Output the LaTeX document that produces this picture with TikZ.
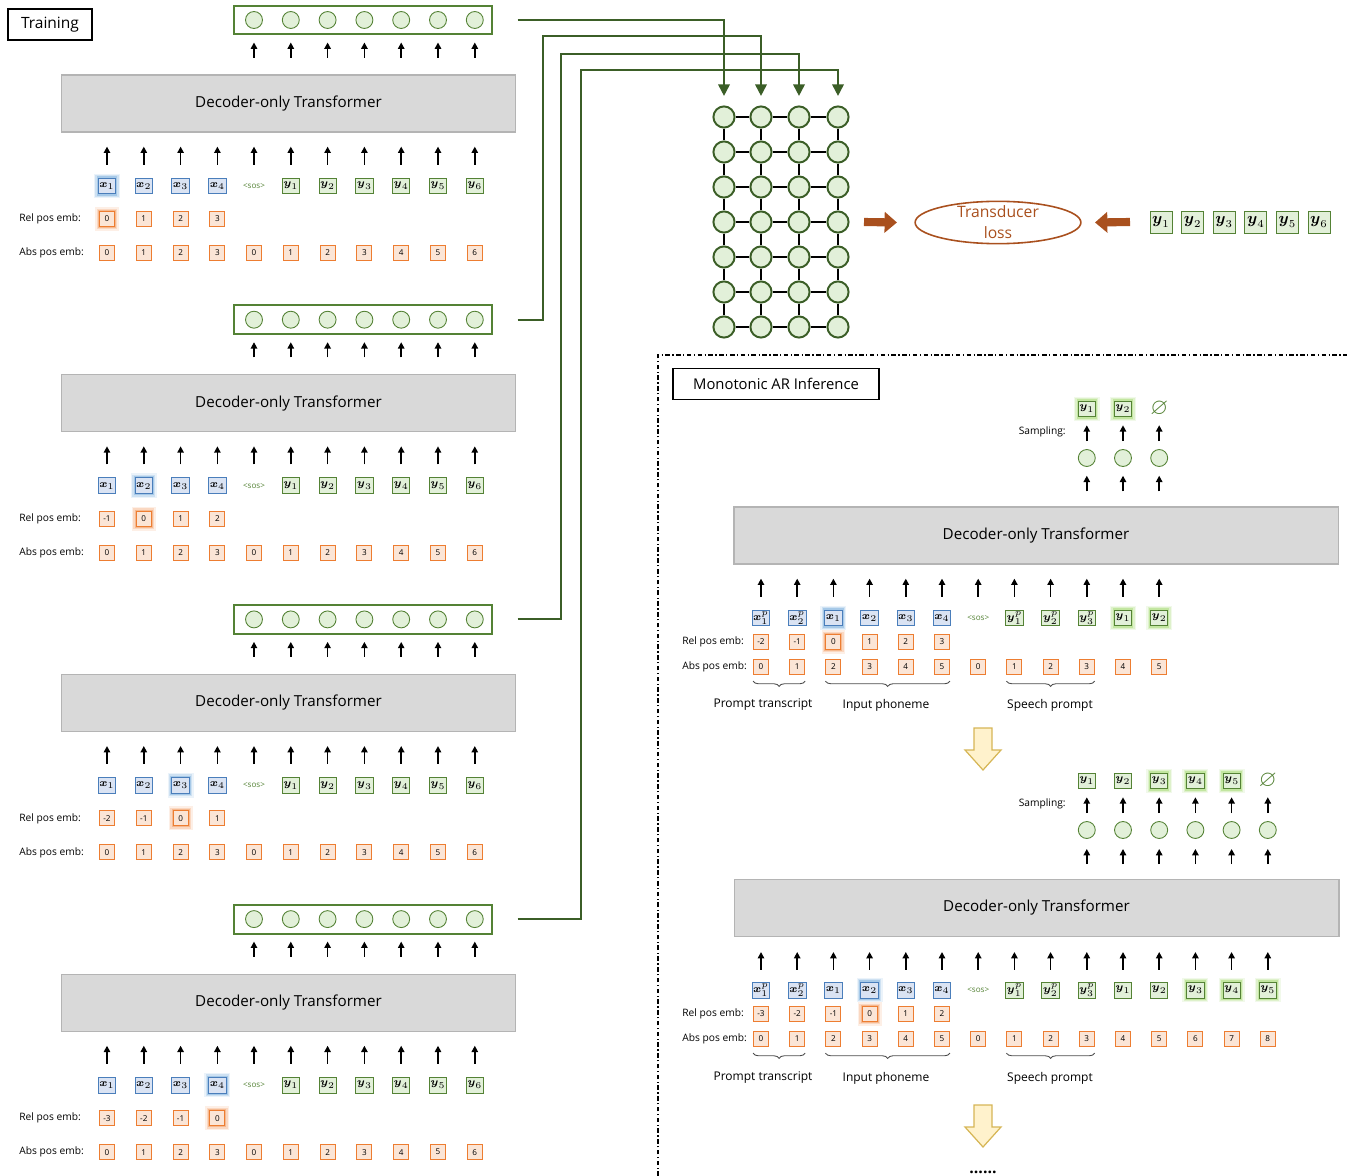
\documentclass[tikz,border=0pt]{standalone}
\usepackage{amsmath,amssymb}
\usepackage{fontspec}
\setmainfont{Open Sans}
\usepackage{tikz}
\usetikzlibrary{arrows.meta,decorations.pathreplacing}
\definecolor{xfill}{HTML}{DAE3F3}
\definecolor{xline}{HTML}{4A7EBB}
\definecolor{yfill}{HTML}{E2F0D9}
\definecolor{yline}{HTML}{548235}
\definecolor{feedgreen}{HTML}{3B5E27}
\definecolor{pfill}{HTML}{FBE5D6}
\definecolor{pline}{HTML}{ED7D31}
\definecolor{tffill}{HTML}{D9D9D9}
\definecolor{tfline}{HTML}{B4B4B4}
\definecolor{lossc}{HTML}{A9501E}
\definecolor{nextfill}{HTML}{FFF2CC}
\definecolor{nextline}{HTML}{D6B656}
\definecolor{glowb}{HTML}{5B9BD5}
\definecolor{glowg}{HTML}{8FD14F}

\tikzset{
  glow/.style={preaction={draw=#1,line width=5pt,draw opacity=0.12},
               preaction={draw=#1,line width=3.4pt,draw opacity=0.2},
               preaction={draw=#1,line width=1.8pt,draw opacity=0.35}},
  hlnone/.style={},
  hlb/.style={glow=glowb},
  hlg/.style={glow=glowg},
  hlo/.style={glow=pline},
  xtok/.style={draw=xline,fill=xfill,line width=0.5pt,minimum size=9pt,inner sep=0.6pt,font=\fontsize{6.2}{7}\selectfont},
  ytok/.style={draw=yline,fill=yfill,line width=0.5pt,minimum size=9pt,inner sep=0.6pt,font=\fontsize{6.2}{7}\selectfont},
  sostok/.style={text=yline,minimum size=9pt,inner sep=0pt,font=\fontsize{4.6}{5}\selectfont},
  nulltok/.style={text=yline,minimum size=9pt,inner sep=0pt,font=\fontsize{13}{14}\selectfont},
  posbox/.style={draw=pline,fill=pfill,line width=0.5pt,minimum size=8.5pt,inner sep=0pt,font=\fontsize{4.6}{5}\selectfont},
  dot/.style={circle,draw=yline,fill=yfill,line width=0.5pt,minimum size=9.6pt,inner sep=0pt},
  latdot/.style={circle,draw=feedgreen,fill=yfill,line width=1.1pt,minimum size=12pt,inner sep=0pt},
  latline/.style={line width=1.1pt},
  bar/.style={draw=yline,line width=1.1pt,minimum width=146.3pt,minimum height=16.4pt},
  tf/.style={draw=tfline,fill=tffill,line width=0.6pt,minimum width=257pt,minimum height=32.3pt,font=\fontsize{8.6}{10}\selectfont},
  title/.style={draw,line width=0.7pt,minimum height=17.5pt,font=\fontsize{8.8}{10}\selectfont},
  lbl/.style={inner sep=0pt,font=\fontsize{5.8}{7}\selectfont},
  grp/.style={inner sep=0pt,font=\fontsize{6.8}{8}\selectfont},
  uparr/.style={line width=0.9pt,-{Triangle[length=3.6pt,width=3.6pt]}},
  feed/.style={draw=feedgreen,line width=1.1pt,-{Triangle[length=6.5pt,width=6.5pt]},shorten >=5.4pt},
  lossarr/.style={draw=lossc,line width=4.6pt,-{Triangle[length=7pt,width=11.5pt]}},
  brc/.style={decorate,decoration={brace,mirror,amplitude=3pt},line width=0.5pt,draw=black!70},
  nextarr/.style={draw=nextline,fill=nextfill,line width=0.7pt}
}

\begin{document}
\begin{tikzpicture}[x=0.567pt,y=-0.567pt]
\useasboundingbox (0,0) rectangle (1347,1176);

\node[title,minimum width=47.6pt] (train) at (50,24.5) {Training};
\foreach \k in {0,1,2,3}{
  \pgfmathsetmacro\dy{299.7*\k}
  \pgfmathtruncatemacro\kk{\k+1}
  \node[bar] (bar\k) at (363,20+\dy) {};
  \node[tf] (tf\k) at (288.5,103.5+\dy) {Decoder-only Transformer};
  \foreach \i in {1,...,7}{
    \node[dot] (o\k-\i) at (217.2+36.8*\i,20+\dy) {};
    \draw[uparr,shorten <=9.6pt,shorten >=4pt] (tf\k.north -| o\k-\i) -- (o\k-\i |- bar\k.south);
  }
  \foreach \j in {1,...,4}{
    \ifnum\j=\kk\relax\def\g{hlb}\def\h{hlo}\else\def\g{hlnone}\def\h{hlnone}\fi
    \pgfmathtruncatemacro\rv{\j-\kk}
    \pgfmathtruncatemacro\av{\j-1}
    \node[xtok,\g] (t\k-\j) at (70.2+36.8*\j,186+\dy) {$\boldsymbol{x}_{\j}$};
    \node[posbox,\h] (r\k-\j) at (70.2+36.8*\j,219+\dy) {\rv};
    \node[posbox] (p\k-\j) at (70.2+36.8*\j,253+\dy) {\av};
  }
  \node[sostok] (t\k-5) at (254,186+\dy) {<sos>};
  \node[posbox] (p\k-5) at (254,253+\dy) {0};
  \foreach \j in {1,...,6}{
    \pgfmathtruncatemacro\n{\j+5}
    \node[ytok] (t\k-\n) at (254+36.8*\j,186+\dy) {$\boldsymbol{y}_{\j}$};
    \node[posbox] (p\k-\n) at (254+36.8*\j,253+\dy) {\j};
  }
  \foreach \j in {1,...,11}
    \draw[uparr,shorten <=7.4pt,shorten >=8pt] (t\k-\j.north) -- (t\k-\j.north |- tf\k.south);
  \node[lbl,anchor=west] (rl\k) at (19,219+\dy) {Rel pos emb:};
  \node[lbl,anchor=west] (al\k) at (19,253+\dy) {Abs pos emb:};
}

% transducer lattice
\foreach \cx [count=\c] in {724,761,799,838}
  \foreach \ry [count=\r] in {117,152,187,222,257,292,327}
    \node[latdot] (g\r-\c) at (\cx,\ry) {};
\foreach \r in {1,...,7}
  \draw[latline] (g\r-1) -- (g\r-2) (g\r-2) -- (g\r-3) (g\r-3) -- (g\r-4);
\foreach \col in {1,...,4}
  \draw[latline] (g1-\col) -- (g2-\col) (g2-\col) -- (g3-\col) (g3-\col) -- (g4-\col)
    (g4-\col) -- (g5-\col) (g5-\col) -- (g6-\col) (g6-\col) -- (g7-\col);
\draw[feed] ([xshift=14pt]bar0.east) -| (g1-1);
\draw[feed] ([xshift=14pt]bar1.east) -| (543,36) -| (g1-2);
\draw[feed] ([xshift=14pt]bar2.east) -| (561,54) -| (g1-3);
\draw[feed] ([xshift=14pt]bar3.east) -| (581,70) -| (g1-4);

\node[align=center,inner sep=0pt,text=lossc,font=\fontsize{8.9}{11.8}\selectfont] (loss) at (998,222.5) {Transducer\\loss};
\draw[draw=lossc,line width=0.9pt] (loss.center) ellipse [x radius=47pt,y radius=12pt];
\coordinate (lin) at (864,222);
\coordinate (rin) at (1130,222);
\draw[lossarr] (lin) -- ([xshift=-57.3pt]loss.center);
\draw[lossarr] (rin) -- ([xshift=55pt]loss.center);
\foreach \j in {1,...,6}
  \node[ytok,minimum size=12.5pt,font=\fontsize{9}{10}\selectfont] (lab\j) at (1129.4+31.6*\j,222) {$\boldsymbol{y}_{\j}$};

% inference
\draw[line width=0.85pt,dash pattern=on 2.6pt off 1.4pt on 0.7pt off 1.4pt] (658,1176) -- (658,355) -- (1347,355);
\node[title,minimum width=116.8pt,font=\fontsize{8.4}{10}\selectfont] (infer) at (776,384) {Monotonic AR Inference};

\node[tf,minimum width=342.5pt] (tfA) at (1036,535.5) {Decoder-only Transformer};
\foreach \s/\st/\g [count=\j] in {{$\boldsymbol{x}^p_1$}/xtok/hlnone,{$\boldsymbol{x}^p_2$}/xtok/hlnone,
    {$\boldsymbol{x}_1$}/xtok/hlb,{$\boldsymbol{x}_2$}/xtok/hlnone,{$\boldsymbol{x}_3$}/xtok/hlnone,
    {$\boldsymbol{x}_4$}/xtok/hlnone,{<sos>}/sostok/hlnone,{$\boldsymbol{y}^p_1$}/ytok/hlnone,
    {$\boldsymbol{y}^p_2$}/ytok/hlnone,{$\boldsymbol{y}^p_3$}/ytok/hlnone,
    {$\boldsymbol{y}_1$}/ytok/hlg,{$\boldsymbol{y}_2$}/ytok/hlg}{
  \node[\st,\g] (a\j) at (724.8+36.2*\j,618) {\s};
  \draw[uparr,shorten <=7.4pt,shorten >=8pt] (a\j.north) -- (a\j.north |- tfA.south);
}
\foreach \v/\h [count=\j] in {-2/hlnone,-1/hlnone,0/hlo,1/hlnone,2/hlnone,3/hlnone}
  \node[posbox,\h] (ra\j) at (724.8+36.2*\j,642) {\v};
\foreach \v [count=\j] in {0,1,2,3,4,5,0,1,2,3,4,5}
  \node[posbox] (pa\j) at (724.8+36.2*\j,667) {\v};
\node[lbl,anchor=west] (rlA) at (682,642) {Rel pos emb:};
\node[lbl,anchor=west] (alA) at (682,667) {Abs pos emb:};
\draw[brc] ([yshift=-3.5pt]pa1.south west) -- ([yshift=-3.5pt]pa2.south east);
\draw[brc] ([yshift=-3.5pt]pa3.south west) -- ([yshift=-3.5pt]pa6.south east);
\draw[brc] ([yshift=-3.5pt]pa8.south west) -- ([yshift=-3.5pt]pa10.south east);
\node[grp] (gA1) at (763,705) {Prompt transcript};
\node[grp] (gA2) at (886,705) {Input phoneme};
\node[grp] (gA3) at (1050,705) {Speech prompt};
\foreach \s/\st/\g [count=\i from 10] in {{$\boldsymbol{y}_1$}/ytok/hlg,{$\boldsymbol{y}_2$}/ytok/hlg,{$\varnothing$}/nulltok/hlnone}{
  \node[dot] (ca\i) at (724.8+36.2*\i,458) {};
  \node[\st,\g] (sa\i) at (724.8+36.2*\i,409) {\s};
  \draw[uparr,shorten <=8.5pt,shorten >=5pt] (tfA.north -| ca\i) -- (ca\i.south);
  \draw[uparr,shorten <=4.5pt,shorten >=4.5pt] (ca\i.north) -- (sa\i.south);
}
\node[lbl,anchor=east] (smpA) at (1066,432) {Sampling:};

\foreach \ty in {728,1105}
  \draw[nextarr] (974,\ty) -- (992,\ty) -- (992,\ty+22) -- (1001,\ty+22) -- (983,\ty+42) -- (965,\ty+22) -- (974,\ty+22) -- cycle;

\node[tf,minimum width=343pt] (tfB) at (1036.5,908) {Decoder-only Transformer};
\foreach \s/\st/\g [count=\j] in {{$\boldsymbol{x}^p_1$}/xtok/hlnone,{$\boldsymbol{x}^p_2$}/xtok/hlnone,
    {$\boldsymbol{x}_1$}/xtok/hlnone,{$\boldsymbol{x}_2$}/xtok/hlb,{$\boldsymbol{x}_3$}/xtok/hlnone,
    {$\boldsymbol{x}_4$}/xtok/hlnone,{<sos>}/sostok/hlnone,{$\boldsymbol{y}^p_1$}/ytok/hlnone,
    {$\boldsymbol{y}^p_2$}/ytok/hlnone,{$\boldsymbol{y}^p_3$}/ytok/hlnone,
    {$\boldsymbol{y}_1$}/ytok/hlnone,{$\boldsymbol{y}_2$}/ytok/hlnone,{$\boldsymbol{y}_3$}/ytok/hlg,
    {$\boldsymbol{y}_4$}/ytok/hlg,{$\boldsymbol{y}_5$}/ytok/hlg}{
  \node[\st,\g] (b\j) at (724.8+36.2*\j,990) {\s};
  \draw[uparr,shorten <=6.8pt,shorten >=8.5pt] (b\j.north) -- (b\j.north |- tfB.south);
}
\foreach \v/\h [count=\j] in {-3/hlnone,-2/hlnone,-1/hlnone,0/hlo,1/hlnone,2/hlnone}
  \node[posbox,\h] (rb\j) at (724.8+36.2*\j,1014) {\v};
\foreach \v [count=\j] in {0,1,2,3,4,5,0,1,2,3,4,5,6,7,8}
  \node[posbox] (pb\j) at (724.8+36.2*\j,1039) {\v};
\node[lbl,anchor=west] (rlB) at (682,1014) {Rel pos emb:};
\node[lbl,anchor=west] (alB) at (682,1039) {Abs pos emb:};
\draw[brc] ([yshift=-3.5pt]pb1.south west) -- ([yshift=-3.5pt]pb2.south east);
\draw[brc] ([yshift=-3.5pt]pb3.south west) -- ([yshift=-3.5pt]pb6.south east);
\draw[brc] ([yshift=-3.5pt]pb8.south west) -- ([yshift=-3.5pt]pb10.south east);
\node[grp] (gB1) at (763,1078) {Prompt transcript};
\node[grp] (gB2) at (886,1078) {Input phoneme};
\node[grp] (gB3) at (1050,1078) {Speech prompt};
\foreach \s/\st/\g [count=\i from 10] in {{$\boldsymbol{y}_1$}/ytok/hlnone,{$\boldsymbol{y}_2$}/ytok/hlnone,
    {$\boldsymbol{y}_3$}/ytok/hlg,{$\boldsymbol{y}_4$}/ytok/hlg,{$\boldsymbol{y}_5$}/ytok/hlg,{$\varnothing$}/nulltok/hlnone}{
  \node[dot] (cb\i) at (724.8+36.2*\i,830) {};
  \node[\st,\g] (sb\i) at (724.8+36.2*\i,781) {\s};
  \draw[uparr,shorten <=8.5pt,shorten >=5.7pt] (tfB.north -| cb\i) -- (cb\i.south);
  \draw[uparr,shorten <=4.5pt,shorten >=4.5pt] (cb\i.north) -- (sb\i.south);
}
\node[lbl,anchor=east] (smpB) at (1066,804) {Sampling:};
\node[inner sep=0pt,font=\fontsize{9}{10}\selectfont\bfseries] (more) at (983,1172) {......};
\end{tikzpicture}
\end{document}
